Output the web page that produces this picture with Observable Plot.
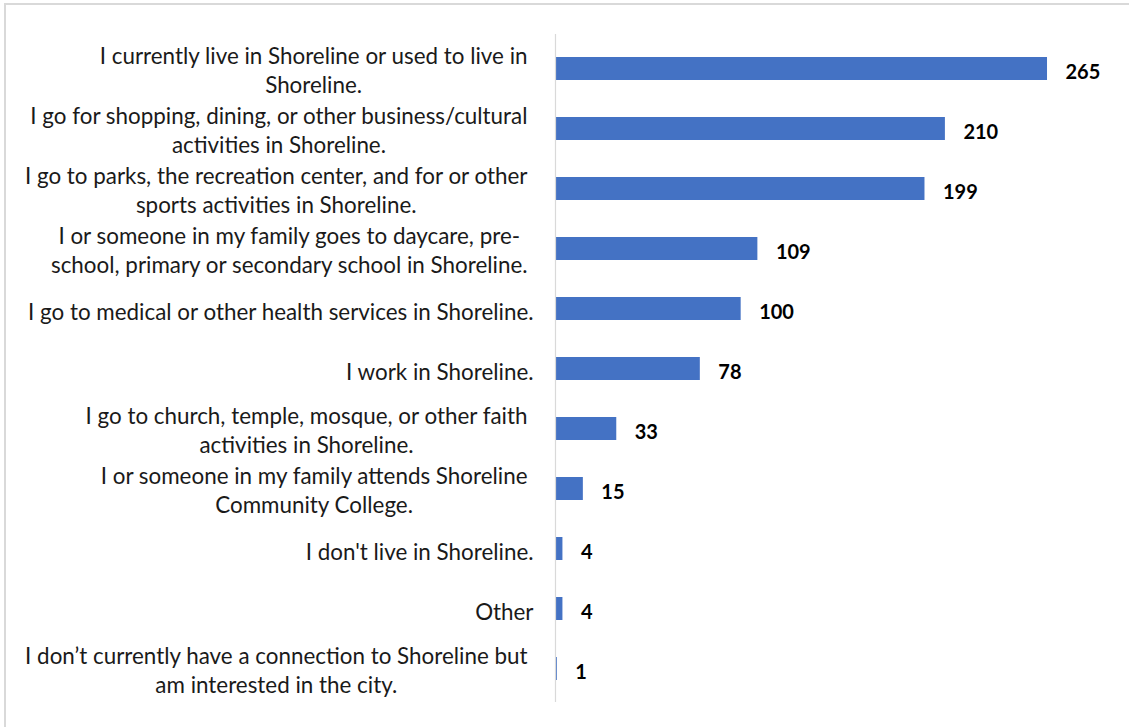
<!DOCTYPE html>
<html>
<head>
<meta charset="utf-8">
<script src="https://cdn.jsdelivr.net/npm/d3@7"></script>
<script src="https://cdn.jsdelivr.net/npm/@observablehq/plot@0.6"></script>
<style>
  html, body { margin: 0; padding: 0; background: #fff; overflow: hidden; }
  #frame { position: absolute; left: 4px; top: 3px; width: 2000px; height: 2000px; border: 2px solid #d9d9d9; box-sizing: border-box; }
  #chart { position: absolute; left: 0; top: 0; }
</style>
</head>
<body>
<div id="frame"></div>
<div id="chart"></div>
<script>
const categories = [
  "I currently live in Shoreline or used to live in\nShoreline.",
  "I go for shopping, dining, or other business/cultural\nactivities in Shoreline.",
  "I go to parks, the recreation center, and for or other\nsports activities in Shoreline.",
  "I or someone in my family goes to daycare, pre-\nschool, primary or secondary school in Shoreline.",
  "I go to medical or other health services in Shoreline.",
  "I work in Shoreline.",
  "I go to church, temple, mosque, or other faith\nactivities in Shoreline.",
  "I or someone in my family attends Shoreline\nCommunity College.",
  "I don't live in Shoreline.",
  "Other",
  "I don\u2019t currently have a connection to Shoreline but\nam interested in the city."
];
const values = [265, 210, 199, 109, 100, 78, 33, 15, 4, 4, 1];

const data = categories.map((c, i) => ({category: c, value: values[i]}));

const labelFont = "Lato, 'Open Sans', sans-serif";

const chart = Plot.plot({
  width: 1129,
  height: 727,
  marginLeft: 555,
  marginRight: 17,
  marginTop: 34,
  marginBottom: 25,
  style: {background: "transparent", fontFamily: labelFont, overflow: "visible"},
  x: {domain: [0, 300], axis: null},
  y: {domain: categories, padding: 0.62, paddingOuter: 0.33, axis: null},
  marks: [
    Plot.barX(data, {x: "value", y: "category", fill: "#4472C4"}),
    Plot.ruleX([0], {stroke: "#d9d9d9", strokeWidth: 1.2}),
    Plot.text(data, {
      x: 0, y: "category", text: "category",
      textAnchor: "end", dx: -22, lineHeight: 1.3,
      fontSize: 22.4, fill: "#1a1a1a", ariaDescription: "cat-labels"
    }),
    Plot.text(data, {
      x: "value", y: "category", text: d => String(d.value),
      textAnchor: "start", dx: 18, dy: 4,
      fontSize: 20, fontWeight: "bold", fill: "#000", fontFamily: "Lato, sans-serif"
    })
  ]
});

document.getElementById("chart").appendChild(chart);

// Center multi-line labels within a right-aligned block; nudge single lines
d3.select(chart).selectAll('g[aria-description="cat-labels"] text').each(function() {
  const tspans = this.querySelectorAll("tspan");
  if (tspans.length < 2) {
    const tf = this.getAttribute("transform") || "";
    this.setAttribute("transform", tf + " translate(0,2)");
    return;
  }
  let W = 0;
  tspans.forEach(t => { W = Math.max(W, t.getComputedTextLength()); });
  this.setAttribute("text-anchor", "middle");
  this.style.textAnchor = "middle";
  tspans.forEach(t => t.setAttribute("x", -W / 2 - 6));
});
</script>
</body>
</html>
